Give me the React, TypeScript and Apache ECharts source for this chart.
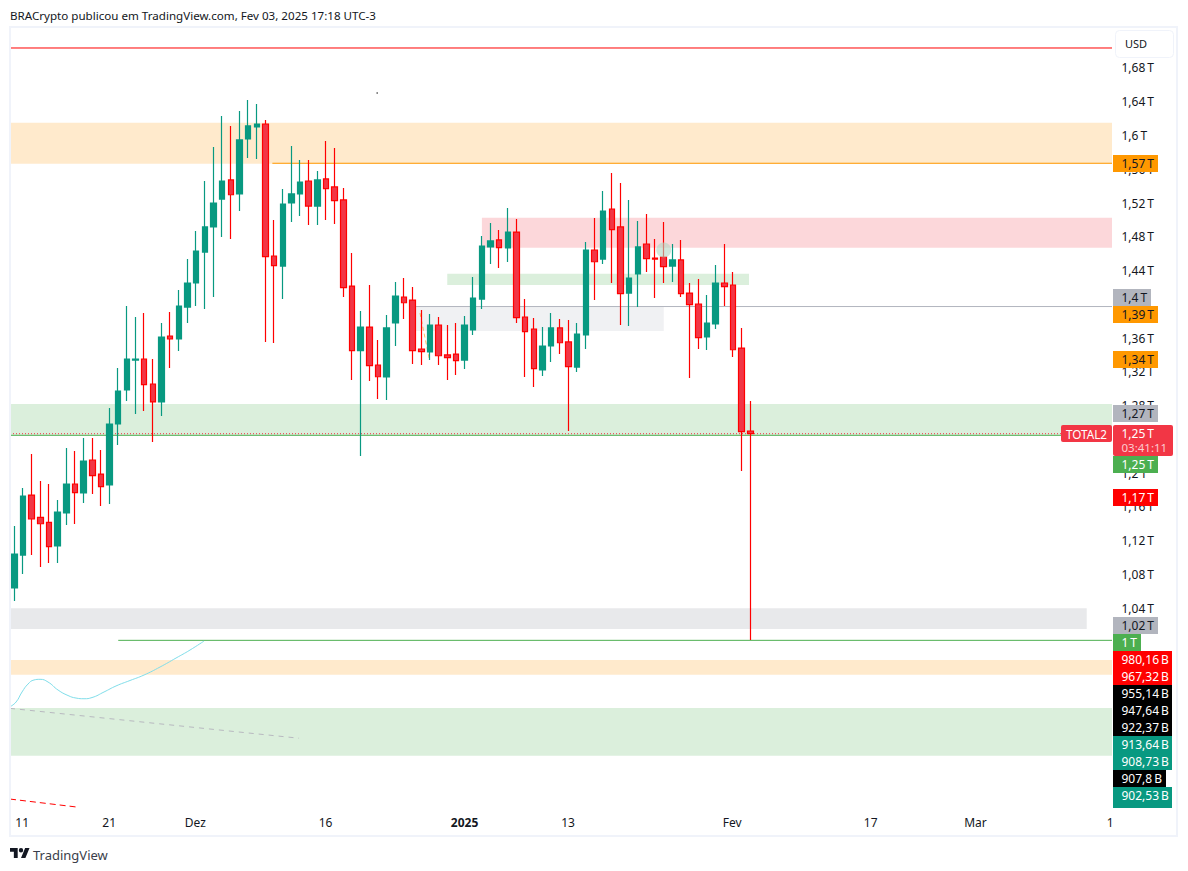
import React, { useEffect, useRef } from "react";
import * as echarts from "echarts";

const FONT = '"Noto Sans", sans-serif';
const TEXT = "#131722";
const THIN = "\u2009";

// daily candles from Nov 10 2024: open, close, low, high in trillions of USD
const ohlc: number[][] = [
  [1.0637, 1.104, 1.0483, 1.1372], [1.1028, 1.1727, 1.0803, 1.1822], [1.1739, 1.1455, 1.1028, 1.2225], [1.1475, 1.1399, 1.0886, 1.1905],
  [1.1416, 1.1127, 1.0933, 1.187], [1.1135, 1.1538, 1.0933, 1.168], [1.1526, 1.187, 1.1384, 1.2296], [1.187, 1.1767, 1.1396, 1.2261],
  [1.1763, 1.2142, 1.1645, 1.2415], [1.2154, 1.1968, 1.1751, 1.2415], [1.1988, 1.1838, 1.1609, 1.2273], [1.1858, 1.2581, 1.1633, 1.277],
  [1.2581, 1.2972, 1.2332, 1.3244], [1.2984, 1.3351, 1.2853, 1.3979], [1.3339, 1.3351, 1.2699, 1.3849], [1.3351, 1.3047, 1.2735, 1.3896],
  [1.3055, 1.2842, 1.2367, 1.3351], [1.2842, 1.3612, 1.2676, 1.3778], [1.3624, 1.3588, 1.3244, 1.3908], [1.3588, 1.3979, 1.3446, 1.4169],
  [1.3967, 1.4252, 1.3778, 1.4536], [1.4252, 1.4631, 1.3979, 1.4868], [1.4619, 1.4916, 1.3944, 1.5461], [1.4916, 1.52, 1.4086, 1.5864],
  [1.5247, 1.5461, 1.4797, 1.6231], [1.5473, 1.5298, 1.4773, 1.6113], [1.5307, 1.5947, 1.5105, 1.629], [1.5959, 1.6113, 1.5733, 1.6421],
  [1.6101, 1.6136, 1.5722, 1.6373], [1.6136, 1.4564, 1.3553, 1.6184], [1.4572, 1.4457, 1.3541, 1.4999], [1.4453, 1.5188, 1.4062, 1.5366],
  [1.52, 1.5307, 1.4975, 1.5876], [1.5307, 1.5449, 1.5046, 1.571], [1.5461, 1.5164, 1.4939, 1.571], [1.5164, 1.5473, 1.4939, 1.5579],
  [1.5485, 1.537, 1.4999, 1.5935], [1.539, 1.5227, 1.4951, 1.5852], [1.5236, 1.4196, 1.4086, 1.5378], [1.4216, 1.345, 1.3102, 1.4607],
  [1.345, 1.373, 1.2201, 1.392], [1.373, 1.3272, 1.309, 1.4228], [1.328, 1.3141, 1.2877, 1.3576], [1.3138, 1.3719, 1.2865, 1.3873],
  [1.3778, 1.4098, 1.3505, 1.4264], [1.4086, 1.4018, 1.3825, 1.4311], [1.405, 1.345, 1.3292, 1.4205], [1.347, 1.3438, 1.328, 1.3932],
  [1.3434, 1.3754, 1.3339, 1.3884], [1.3754, 1.339, 1.328, 1.3849], [1.3399, 1.3367, 1.3102, 1.3754], [1.341, 1.3331, 1.3162, 1.3778],
  [1.3339, 1.3754, 1.3233, 1.3861], [1.3695, 1.4074, 1.3636, 1.4323], [1.4062, 1.469, 1.3944, 1.4809], [1.4679, 1.475, 1.4477, 1.4963],
  [1.4762, 1.467, 1.443, 1.488], [1.4667, 1.4856, 1.4501, 1.5141], [1.4856, 1.3841, 1.3778, 1.501], [1.3849, 1.3675, 1.3138, 1.4062],
  [1.3707, 1.3236, 1.3019, 1.3837], [1.3221, 1.3505, 1.315, 1.373], [1.3505, 1.3719, 1.3316, 1.3896], [1.3719, 1.3544, 1.341, 1.3825],
  [1.3553, 1.326, 1.2498, 1.3813], [1.3256, 1.3647, 1.3197, 1.3778], [1.3636, 1.4643, 1.347, 1.4738], [1.4643, 1.4504, 1.405, 1.5022],
  [1.4536, 1.5105, 1.4477, 1.5342], [1.5129, 1.4884, 1.4252, 1.5556], [1.4916, 1.4125, 1.3754, 1.5437], [1.4133, 1.4311, 1.3742, 1.5236],
  [1.4359, 1.4679, 1.3967, 1.4987], [1.4714, 1.454, 1.4382, 1.507], [1.4548, 1.4536, 1.4074, 1.4773], [1.456, 1.4445, 1.4252, 1.4975],
  [1.4453, 1.4525, 1.4264, 1.4714], [1.4525, 1.4125, 1.4086, 1.4762], [1.4133, 1.3995, 1.3126, 1.4252], [1.4003, 1.3604, 1.347, 1.4299],
  [1.3612, 1.3778, 1.3458, 1.411], [1.3766, 1.4252, 1.3707, 1.4465], [1.4252, 1.4208, 1.3979, 1.4714], [1.4228, 1.3461, 1.3375, 1.4382],
  [1.3481, 1.249, 1.2024, 1.3719], [1.2498, 1.2466, 1.0021, 1.2853],
];

const priceTicks = [1.68, 1.64, 1.6, 1.56, 1.52, 1.48, 1.44, 1.4, 1.36, 1.32, 1.28, 1.24, 1.2, 1.16, 1.12, 1.08, 1.04];
const dateTickIndex = [0.9, 10.95, 20.9, 35.95, 52, 63.95, 82.9, 98.9, 111, 126.55];
const dateTickLabels = ["11", "21", "Dez", "16", "2025", "13", "Fev", "17", "Mar", "1"];

// shaded zones
const zoneStart = [-0.5, 54, 50, 46.4, -0.5, -0.5, -0.5, -0.5];
const zoneEnd = [126.77, 126.77, 84.85, 75, 126.77, 123.85, 126.77, 126.77];
const zoneHigh = [1.6152, 1.5026, 1.4362, 1.3976, 1.2818, 1.0396, 0.9784, 0.9215];
const zoneLow = [1.5666, 1.467, 1.4228, 1.3683, 1.2447, 1.0151, 0.961, 0.865];

// horizontal levels
const levelValue = [1.7037, 1.5671, 1.3973, 1.2447, 1.2466, 1.0017];
const levelStart = [-0.5, 29.8, 46.4, -0.5, -0.5, 12];
const levelEnd = [126.77, 126.77, 126.77, 120.9, 120.9, 126.77];

// moving-average style curve at the bottom left
const curveIndex = [-0.5, 0.2, 0.89, 1.58, 2.27, 2.97, 3.89, 5.05, 6.2, 7.13, 8.05, 8.97, 10.36, 11.74, 13.36, 14.98, 16.83, 18.67, 20.29, 21.91];
const curveValue = [0.923, 0.9286, 0.9405, 0.9499, 0.9547, 0.9555, 0.9523, 0.9428, 0.9363, 0.9333, 0.9325, 0.9339, 0.9405, 0.9476, 0.9541, 0.9606, 0.9701, 0.9807, 0.9902, 1.0009];

// sloped dashed trend lines
const grayTrendIndex = [-0.5, 32.88];
const grayTrendValue = [0.9211, 0.8857];
const redTrendIndex = [-0.5, 7.24];
const redTrendValue = [0.8136, 0.8041];
const orangeTrendIndex = [46.85, 47.9];
const orangeTrendValue = [1.3896, 1.3363];

const markerPoint = [75, 1.4643];
const dotPoint = [41.9, 1.6504];

// price tags on the right scale
const tagLabels = ["1,57 T", "1,4 T", "1,39 T", "1,34 T", "1,27 T", "1,25 T", "1,17 T", "1,02 T", "1 T", "980,16 B", "967,32 B", "955,14 B", "947,64 B", "922,37 B", "913,64 B", "908,73 B", "907,8 B", "902,53 B"];

const headerText = "BRACrypto publicou em TradingView.com, Fev 03, 2025 17:18 UTC-3";

// layout and styling of the tags, kept apart from their labels
const tagTop = [155, 289, 306, 351, 405, 456, 489, 617, 634, 651, 668, 685, 702, 719, 736, 753, 770, 787];
const tagBottom = [172, 306, 323, 368, 422, 473, 506, 634, 651, 668, 685, 702, 719, 736, 753, 770, 787, 808];
const tagWidth = [45, 38, 45, 45, 45, 45, 45, 45, 28, 59, 59, 59, 59, 59, 59, 59, 53, 59];
const tagFill = ["#ff9800", "#b2b5be", "#ff9800", "#ff9800", "#b2b5be", "#4caf50", "#ff0000", "#b2b5be", "#4caf50", "#ff0000", "#ff0000", "#000000", "#000000", "#000000", "#089981", "#089981", "#000000", "#089981"];
const tagInk = [TEXT, TEXT, TEXT, TEXT, TEXT, "#fff", "#fff", TEXT, "#fff", "#fff", "#fff", "#fff", "#fff", "#fff", "#fff", "#fff", "#fff", "#fff"];
const zoneFill = ["#ffeacc", "#fcd7da", "#dbefdc", "#f0f1f3", "#dbefdc", "#e8e9eb", "#ffeacc", "#dbefdc"];
const levelStroke = ["#ff0000", "#ff9800", "#b2b5be", "#4caf50", "#f23645", "#4caf50"];
const levelDash: any[] = ["solid", "solid", "solid", "solid", [1, 2], "solid"];

const LOGO = "M14 22H7V11H0V4h14v18zM28 22h-8l7.5-18h8L28 22zM16 8a4 4 0 1 0 8 0a4 4 0 1 0 -8 0z";
echarts.graphic.registerShape("tvlogo", echarts.graphic.extendPath(LOGO, {}));

const lineSeries = (xs: number[], ys: number[], color: string, type: any, extra: any = {}) => ({
  type: "line",
  data: xs.map((x, i) => [x, ys[i]]),
  showSymbol: false,
  symbol: "none",
  silent: true,
  z: 1,
  lineStyle: { color, width: 1, type },
  ...extra,
});

function buildOption() {
  const tagGraphics: any[] = [];
  tagLabels.forEach((label, i) => {
    tagGraphics.push({
      type: "rect",
      z: 50,
      shape: { x: 1113, y: tagTop[i], width: tagWidth[i], height: tagBottom[i] - tagTop[i] },
      style: { fill: tagFill[i] },
    });
    tagGraphics.push({
      type: "text",
      z: 51,
      style: {
        x: 1121.5,
        y: tagTop[i] + 8,
        text: label.replace(" ", THIN),
        fill: tagInk[i],
        font: `12px ${FONT}`,
        textVerticalAlign: "middle",
      },
    });
  });

  return {
    animation: false,
    backgroundColor: "#ffffff",
    grid: { left: 10, top: 28, width: 1102, height: 780, containLabel: false },
    xAxis: {
      type: "value",
      min: -0.5,
      max: 126.77,
      splitLine: { show: false },
      axisLine: { show: false },
      axisTick: { show: false },
      axisLabel: {
        customValues: dateTickIndex,
        margin: 8,
        color: TEXT,
        fontFamily: FONT,
        fontSize: 12,
        formatter: (v: number) => {
          const t = dateTickLabels[dateTickIndex.indexOf(v)] ?? "";
          return t === "2025" ? `{b|${t}}` : t;
        },
        rich: { b: { fontWeight: "bold", fontFamily: FONT, fontSize: 12, color: TEXT } },
      },
    },
    yAxis: {
      type: "value",
      position: "right",
      min: 0.803,
      max: 1.7274,
      splitLine: { show: false },
      axisLine: { show: false },
      axisTick: { show: false },
      axisLabel: {
        customValues: priceTicks,
        margin: 9.5,
        color: TEXT,
        fontFamily: FONT,
        fontSize: 12,
        formatter: (v: number) => `${String(v).replace(".", ",")}${THIN}T`,
      },
    },
    series: [
      {
        type: "line",
        data: [],
        silent: true,
        z: 0,
        markArea: {
          silent: true,
          z: 0,
          label: { show: false },
          data: zoneStart.map((s, i) => [
            { xAxis: s, yAxis: zoneHigh[i], itemStyle: { color: zoneFill[i], opacity: 1 } },
            { xAxis: zoneEnd[i], yAxis: zoneLow[i] },
          ]),
        },
      },
      ...levelValue.map((v, i) =>
        lineSeries([levelStart[i], levelEnd[i]], [v, v], levelStroke[i], levelDash[i])
      ),
      lineSeries(curveIndex, curveValue, "#80deea", "solid", { smooth: true }),
      lineSeries(grayTrendIndex, grayTrendValue, "#b8b9c0", [5, 5]),
      lineSeries(redTrendIndex, redTrendValue, "#ff0000", [6, 4]),
      lineSeries(orangeTrendIndex, orangeTrendValue, "rgba(255,152,0,0.6)", [4, 3]),
      {
        type: "scatter",
        data: [markerPoint],
        symbolSize: 15,
        silent: true,
        z: 3,
        itemStyle: { color: "rgba(178,215,195,0.75)" },
      },
      {
        type: "scatter",
        data: [dotPoint],
        symbolSize: 1.6,
        silent: true,
        z: 3,
        itemStyle: { color: "#444" },
      },
      {
        type: "candlestick",
        silent: true,
        z: 2,
        barWidth: 6,
        data: ohlc.map((r, i) => [i, r[0], r[1], r[2], r[3]]),
        itemStyle: {
          color: "#089981",
          color0: "#f23645",
          borderColor: "#089981",
          borderColor0: "#ff0000",
          borderWidth: 1.2,
        },
      },
    ],
    graphic: {
      elements: [
        { type: "rect", z: 40, shape: { x: 10, y: 27, width: 1167, height: 809 }, style: { fill: "none", stroke: "#f0f3fa", lineWidth: 2 } },
        { type: "rect", z: 41, shape: { x: 1115.5, y: 30.5, width: 58, height: 27, r: 4 }, style: { fill: "#fff", stroke: "#f0f3fa", lineWidth: 1 } },
        { type: "text", z: 42, style: { x: 1125, y: 43.5, text: "USD", fill: TEXT, font: `11px ${FONT}`, textVerticalAlign: "middle" } },
        { type: "text", z: 42, style: { x: 10, y: 15, text: headerText, fill: TEXT, font: `11.6px ${FONT}`, textVerticalAlign: "middle" } },
        { type: "tvlogo", z: 42, x: 10, y: 845.8, scaleX: 0.55, scaleY: 0.55, style: { fill: "#131722" } },
        { type: "text", z: 42, style: { x: 33, y: 854.5, text: "TradingView", fill: "#3a3e4a", font: `13px ${FONT}`, textVerticalAlign: "middle" } },
        { type: "rect", z: 50, shape: { x: 1061, y: 425, width: 51, height: 17, r: 2 }, style: { fill: "#f23645" } },
        { type: "text", z: 51, style: { x: 1066, y: 433.5, text: "TOTAL2", fill: "#fff", font: `11.7px ${FONT}`, textVerticalAlign: "middle" } },
        { type: "rect", z: 50, shape: { x: 1113, y: 425, width: 60, height: 31, r: 2 }, style: { fill: "#f23645" } },
        { type: "text", z: 51, style: { x: 1121.5, y: 433, text: `1,25${THIN}T`, fill: "#fff", font: `12px ${FONT}`, textVerticalAlign: "middle" } },
        { type: "text", z: 51, style: { x: 1121.5, y: 447.5, text: "03:41:11", fill: "rgba(255,255,255,0.75)", font: `11.5px ${FONT}`, textVerticalAlign: "middle" } },
        ...tagGraphics,
      ],
    },
  };
}

export default function App() {
  const ref = useRef<HTMLDivElement>(null);
  useEffect(() => {
    const chart = echarts.init(ref.current!, undefined, { renderer: "svg" });
    chart.setOption(buildOption() as any);
    return () => chart.dispose();
  }, []);
  return <div ref={ref} style={{ position: "fixed", left: 0, top: 0, width: 1188, height: 871, background: "#fff" }} />;
}
